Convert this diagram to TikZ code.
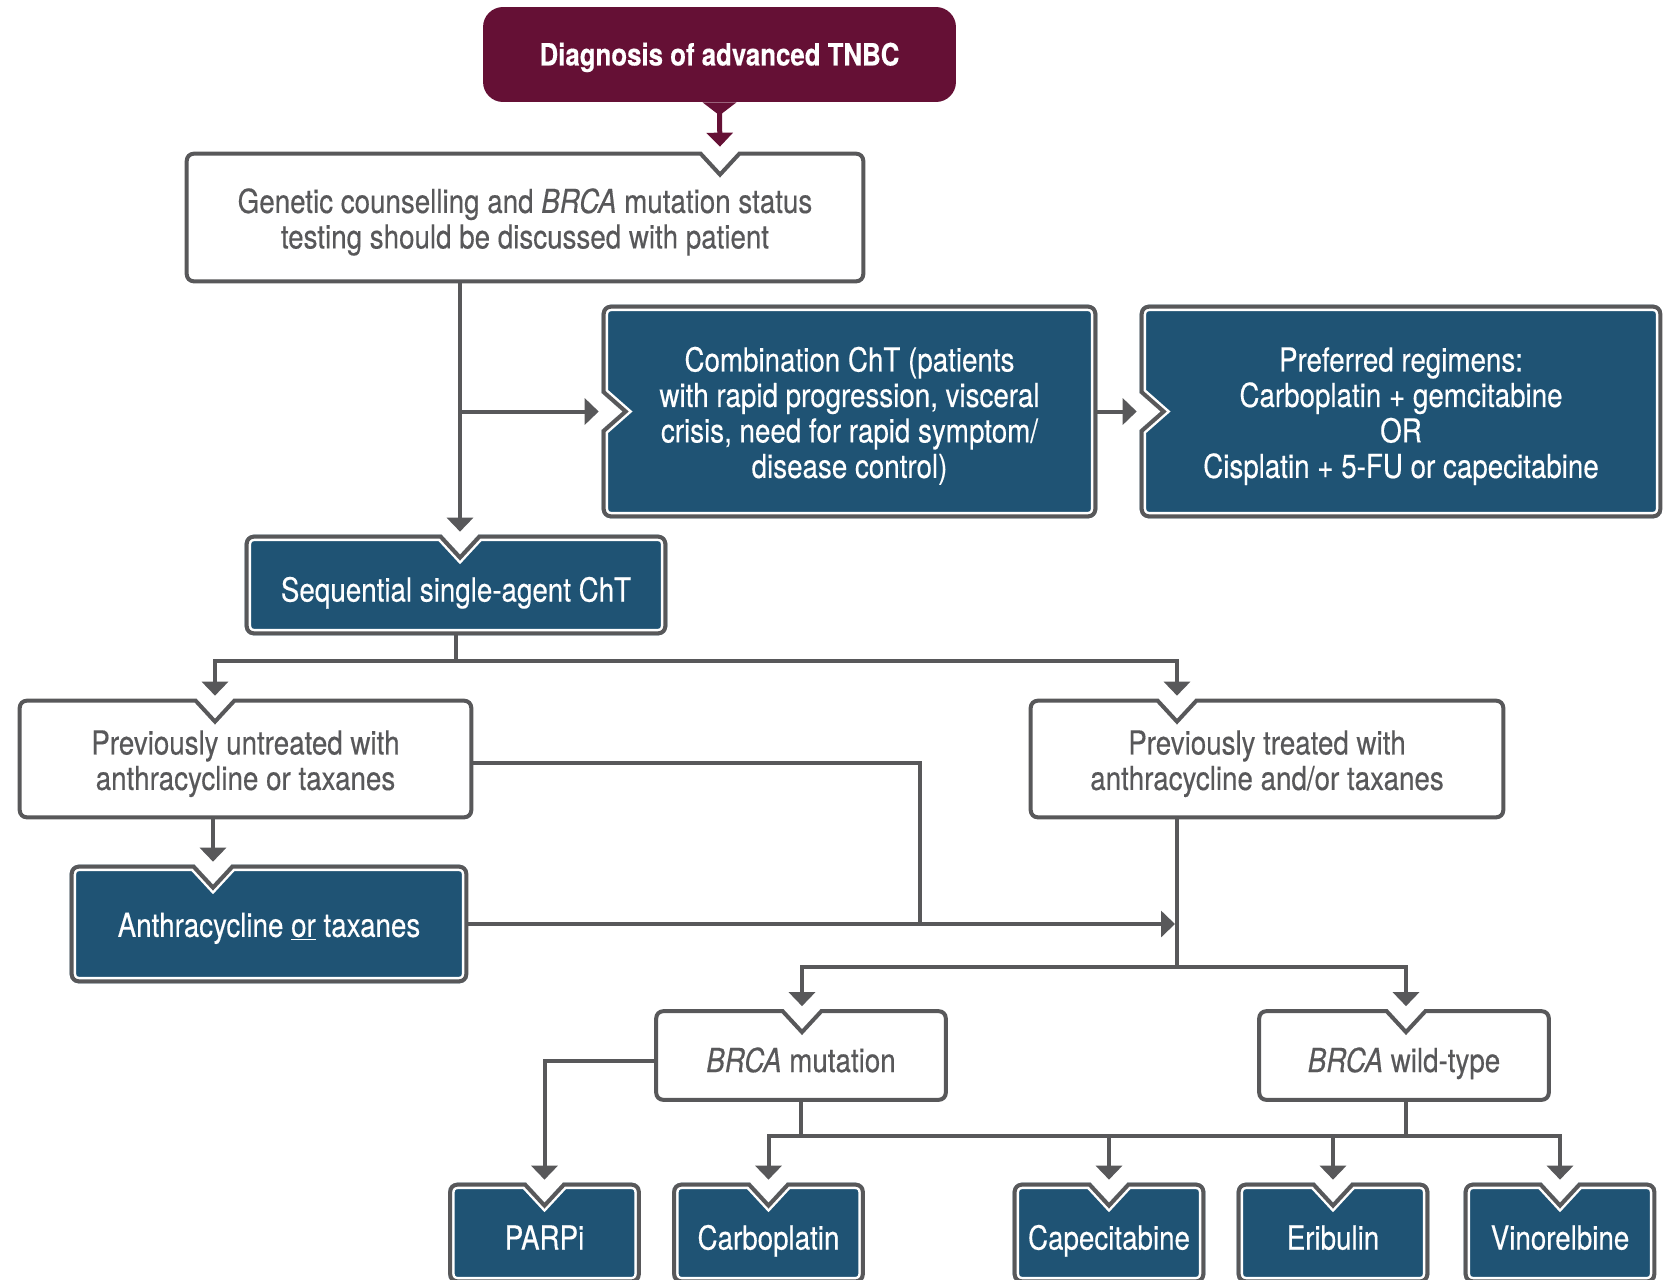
\documentclass[tikz,border=0pt]{standalone}
\usepackage{fontspec}
\setmainfont[FakeStretch=0.84, FakeBold=0.35]{TeX Gyre Heros}
\usepackage{xcolor}
\usetikzlibrary{arrows.meta}
\usetikzlibrary{backgrounds}

\definecolor{tnbcred}{HTML}{651035}
\definecolor{tnbcblue}{HTML}{1F5374}
\definecolor{linegray}{HTML}{58585A}

\def\boxr{0.18cm}
\newcommand{\onestrut}{\rule[-5pt]{0pt}{28.8pt}}
\newcommand{\topstrut}{\rule{0pt}{20pt}}
\newcommand{\botstrut}{\rule[-5pt]{0pt}{5pt}}

% outline with a notch cut into the top edge
\newcommand{\toppath}[1]{([xshift=0.37cm]#1n) [rounded corners=\boxr] -- (#1.north east) -- (#1.south east) -- (#1.south west) -- (#1.north west) [sharp corners] -- ([xshift=-0.37cm]#1n) -- ([yshift=-0.40cm]#1n) -- cycle}
% outline with a notch cut into the left edge
\newcommand{\leftpath}[1]{([yshift=-0.37cm]#1.west) [rounded corners=\boxr] -- (#1.south west) -- (#1.south east) -- (#1.north east) -- (#1.north west) [sharp corners] -- ([yshift=0.37cm]#1.west) -- ([xshift=0.42cm]#1.west) -- cycle}

\newcommand{\lightnotch}[2]{%
  \coordinate (#1n) at (#2,0 |- #1.north);
  \begin{scope}[on background layer]
    \begin{scope}
      \clip \toppath{#1};
      \fill[white] \toppath{#1};
      \draw[linegray, line width=0.16cm] \toppath{#1};
    \end{scope}
  \end{scope}}

\newcommand{\darknotch}[2]{%
  \coordinate (#1n) at (#2,0 |- #1.north);
  \begin{scope}[on background layer]
    \begin{scope}
      \clip \toppath{#1};
      \fill[tnbcblue] \toppath{#1};
      \draw[white, line width=0.26cm] \toppath{#1};
      \draw[linegray, line width=0.16cm] \toppath{#1};
    \end{scope}
  \end{scope}}

\newcommand{\darkleft}[1]{%
  \begin{scope}[on background layer]
    \begin{scope}
      \clip \leftpath{#1};
      \fill[tnbcblue] \leftpath{#1};
      \draw[white, line width=0.26cm] \leftpath{#1};
      \draw[linegray, line width=0.16cm] \leftpath{#1};
    \end{scope}
  \end{scope}}

\tikzset{
  boxfont/.style={font=\fontsize{18.8}{20.2}\selectfont},
  lightbox/.style={rectangle, inner sep=0pt, align=center, boxfont, text=linegray},
  darkbox/.style={rectangle, inner sep=0pt, align=center, boxfont, text=white},
  drugbox/.style={darkbox, minimum width=3.84cm, minimum height=2cm},
  brcabox/.style={lightbox, minimum width=5.86cm, minimum height=1.84cm},
  conn/.style={draw=linegray, line width=0.08cm},
  arr/.style={conn, -{Triangle[width=0.52cm,length=0.28cm]}, shorten >=0.06cm},
}

\begin{document}
\begin{tikzpicture}[x=0.02cm, y=-0.02cm]

    \useasboundingbox (0,0) rectangle (1670,1279);
    \begin{scope}[on background layer]
        \fill[white] (0,0) rectangle (1670,1279);
    \end{scope}

    % boxes
    \node[fill=tnbcred, rounded corners=0.4cm, minimum width=9.46cm, minimum height=1.9cm,
          text=white, font=\bfseries\fontsize{17.5}{19}\selectfont] (title) at (719.5,54.5)
        {\rule[-4pt]{0pt}{20.5pt}Diagnosis of advanced TNBC};

    \node[lightbox, minimum width=13.6cm, minimum height=2.62cm] (genetic) at (525,217.5)
        {\topstrut Genetic counselling and \textit{BRCA} mutation status\\testing should be discussed with patient\botstrut};

    \node[darkbox, minimum width=9.9cm, minimum height=4.26cm] (combo) at (849.5,411.5)
        {\topstrut Combination ChT (patients\\with rapid progression, visceral\\crisis, need for rapid symptom/\\disease control)\botstrut};
    \node[darkbox, minimum width=10.44cm, minimum height=4.26cm] (pref) at (1401,411.5)
        {\topstrut Preferred regimens:\\Carboplatin + gemcitabine\\OR\\Cisplatin + 5-FU or capecitabine\botstrut};

    \node[darkbox, minimum width=8.44cm, minimum height=2cm] (seq) at (456,585) {\onestrut Sequential single-agent ChT};

    \node[lightbox, minimum width=9.1cm, minimum height=2.4cm] (untr) at (245.5,759)
        {\topstrut Previously untreated with\\anthracycline or taxanes\botstrut};
    \node[lightbox, minimum width=9.52cm, minimum height=2.4cm] (treat) at (1267,759)
        {\topstrut Previously treated with\\anthracycline and/or taxanes\botstrut};

    \node[darkbox, minimum width=7.96cm, minimum height=2.36cm] (anth) at (269,924)
        {\rule[-5pt]{0pt}{24.6pt}Anthracycline \underline{or} taxanes};

    \node[brcabox] (mut) at (801,1055.5) {\onestrut\textit{BRCA} mutation};
    \node[brcabox] (wt) at (1404,1055.5) {\onestrut\textit{BRCA} wild-type};

    \node[drugbox] (parpi) at (544.5,1233) {\onestrut PARPi};
    \node[drugbox] (carbo) at (768.5,1233) {\onestrut Carboplatin};
    \node[drugbox] (cape) at (1109,1233) {\onestrut Capecitabine};
    \node[drugbox] (erib) at (1333,1233) {\onestrut Eribulin};
    \node[drugbox] (vino) at (1560,1233) {\onestrut Vinorelbine};

    % outlines with notches
    \lightnotch{genetic}{720}
    \darkleft{combo}
    \darkleft{pref}
    \darknotch{seq}{460}
    \lightnotch{untr}{215}
    \lightnotch{treat}{1177}
    \darknotch{anth}{213}
    \lightnotch{mut}{802}
    \lightnotch{wt}{1406}
    \darknotch{parpi}{544.5}
    \darknotch{carbo}{768.5}
    \darknotch{cape}{1109}
    \darknotch{erib}{1333}
    \darknotch{vino}{1560}

    % connectors
    \fill[tnbcred] ([xshift=-0.34cm]title.south) -- ([xshift=0.34cm]title.south) -- ([yshift=-0.26cm]title.south) -- cycle;
    \draw[tnbcred, line width=0.1cm, -{Triangle[width=0.52cm,length=0.28cm]}, shorten >=0.1cm]
        ([yshift=-0.2cm]title.south) -- (geneticn);

    \draw[arr] (seqn |- genetic.south) -- (seqn);
    \draw[arr] (seqn |- combo.west) -- (combo.west);
    \draw[arr] (combo.east) -- (pref.west);

    \coordinate (seqfork) at (seq.south |- 0,661);
    \draw[arr] (seq.south) -- (seqfork) -| (untrn);
    \draw[arr] (seqfork) -| (treatn);

    \draw[arr] (anthn |- untr.south) -- (anthn);
    \coordinate (merge) at (920,0 |- anth.east);
    \draw[conn] ([yshift=-0.08cm]untr.east) -| (merge);
    \draw[arr, shorten >=0.04cm] (anth.east) -- (treatn |- anth.east);

    \coordinate (brcafork) at (treatn |- 0,967);
    \draw[conn] (treatn |- treat.south) -- (brcafork);
    \draw[arr] (brcafork) -| (mutn);
    \draw[arr] (brcafork) -| (wtn);

    \draw[arr] ([yshift=-0.1cm]mut.west) -| (parpin);
    \coordinate (drugfork) at (mut.south |- 0,1136);
    \draw[conn] (mut.south) -- (drugfork);
    \draw[arr] (drugfork) -| (carbon);
    \draw[arr] (drugfork) -| (vinon);
    \draw[conn] (wtn |- wt.south) -- (wtn |- drugfork);
    \draw[arr] (capen |- drugfork) -- (capen);
    \draw[arr] (eribn |- drugfork) -- (eribn);

\end{tikzpicture}
\end{document}
